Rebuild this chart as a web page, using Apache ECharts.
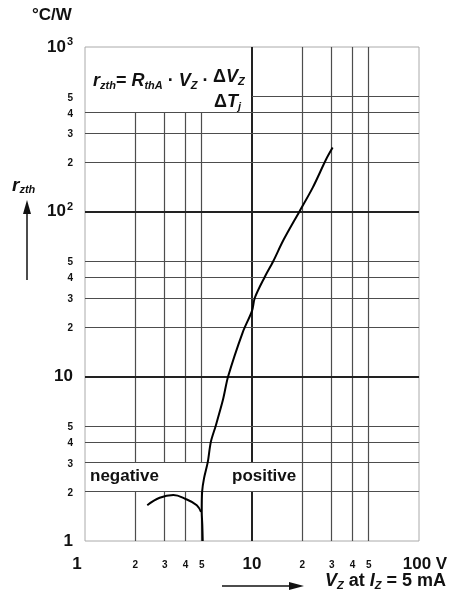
<!DOCTYPE html>
<html>
<head>
<meta charset="utf-8">
<script src="https://cdn.jsdelivr.net/npm/echarts@6/dist/echarts.min.js"></script>
<style>
  html, body { margin: 0; padding: 0; background: #fff; }
  #chart { width: 454px; height: 601px; }
</style>
</head>
<body>
<div id="chart"></div>
<script>
// tick labels and grid positions
const xTicks = [1, 2, 3, 4, 5, 10, 20, 30, 40, 50, 100];
const yTicks = [1, 2, 3, 4, 5, 10, 20, 30, 40, 50, 100, 200, 300, 400, 500, 1000];
const xGrid = [2, 3, 4, 5, 10, 20, 30, 40, 50];
const yGrid = [2, 3, 4, 5, 10, 20, 30, 40, 50, 100, 200, 300, 400, 500];

// curve (Vz in V, rzth in °C/W)
const negativeBranch = [[2.36, 1.65], [2.8, 1.83], [3.38, 1.9], [4, 1.8], [4.67, 1.65], [4.95, 1.5]];
const positiveBranch = [
  [5.07, 1], [5.04, 1.25], [5.0, 1.5], [5.03, 2], [5.16, 2.4], [5.43, 3], [5.67, 4], [6.06, 5],
  [6.7, 7.2], [7.2, 10], [8.8, 18.5], [10, 25], [10.4, 30], [11.9, 40], [13.4, 50], [15.4, 67],
  [19.2, 100], [23.1, 140], [27.8, 208], [30.4, 245]
];

const FONT = 'Liberation Sans';
const minorLine = { color: '#4d4d4d', width: 1.2, type: 'solid' };
const majorLine = { color: '#222', width: 2, type: 'solid' };

// where grid lines are interrupted (formula box, negative/positive band)
function vSpans(v) {
  if (v <= 5) return [[1, 2], [3, 400]];
  if (v === 10) return [[1, 2], [3, 1000]];
  return [[1, 1000]];
}
function hSpans(v) {
  return v === 500 ? [[10, 100]] : [[1, 100]];
}

function gridLines() {
  const out = [];
  xGrid.forEach(v => {
    const ls = v === 10 ? majorLine : minorLine;
    vSpans(v).forEach(([a, b]) => out.push([{ coord: [v, a], lineStyle: ls }, { coord: [v, b] }]));
  });
  yGrid.forEach(v => {
    const ls = (v === 10 || v === 100) ? majorLine : minorLine;
    hSpans(v).forEach(([a, b]) => out.push([{ coord: [a, v], lineStyle: ls }, { coord: [b, v] }]));
  });
  return out;
}

function mantissa(v) {
  return Math.round(v / Math.pow(10, Math.floor(Math.log10(v) + 1e-9)));
}

function xLabel(v) {
  if (v === 1) return '{one|1}';
  if (v === 10) return '{big|10}';
  if (v === 100) return '{hundred|100 V}';
  return '{small|' + mantissa(v) + '}';
}

function yLabel(v) {
  if (v === 1) return '{big|1}';
  if (v === 10) return '{big|10}';
  if (v === 100) return '{big|10}{sup|2}';
  if (v === 1000) return '{big|10}{sup|3}';
  return '{small|' + mantissa(v) + '}';
}

const labelRich = {
  big: { fontSize: 17, fontWeight: 'bold', fontFamily: FONT, color: '#111', lineHeight: 20 },
  one: { fontSize: 17, fontWeight: 'bold', fontFamily: FONT, color: '#111', lineHeight: 20, padding: [0, 16, 0, 0] },
  hundred: { fontSize: 17, fontWeight: 'bold', fontFamily: FONT, color: '#111', lineHeight: 20, padding: [0, 0, 0, 12] },
  small: { fontSize: 10, fontWeight: 'bold', fontFamily: FONT, color: '#111', lineHeight: 20, padding: [3, 0, 0, 0] },
  sup: { fontSize: 11, fontWeight: 'bold', fontFamily: FONT, color: '#111', verticalAlign: 'top', padding: [0, 0, 10, 1] },
};

const subRich = (size) => ({
  i: { font: 'italic bold ' + size + 'px ' + FONT, fill: '#111', lineHeight: 20 },
  n: { font: 'bold ' + size + 'px ' + FONT, fill: '#111', lineHeight: 20 },
  sub: { font: 'italic bold ' + Math.round(size * 0.6) + 'px ' + FONT, fill: '#111', verticalAlign: 'bottom', padding: [6, 0, 0, 0] },
});

const chart = echarts.init(document.getElementById('chart'));

chart.setOption({
  animation: false,
  grid: { left: 85, right: 35, top: 47, bottom: 60, show: true, borderColor: '#aaa', borderWidth: 1 },
  xAxis: {
    type: 'log', logBase: 10, min: 1, max: 100,
    axisLine: { show: false }, axisTick: { show: false }, splitLine: { show: false },
    axisLabel: { customValues: xTicks, margin: 13, formatter: xLabel, rich: labelRich },
  },
  yAxis: {
    type: 'log', logBase: 10, min: 1, max: 1000,
    axisLine: { show: false }, axisTick: { show: false }, splitLine: { show: false },
    axisLabel: { customValues: yTicks, margin: 12, formatter: yLabel, rich: labelRich },
  },
  series: [
    {
      // grid lines
      type: 'line', data: [], z: 1, silent: true,
      markLine: {
        z: 1, silent: true, symbol: 'none', label: { show: false }, animation: false,
        data: gridLines(),
      },
    },
    {
      name: 'negative', type: 'line', z: 3, data: negativeBranch, smooth: 0.4,
      showSymbol: false, lineStyle: { color: '#000', width: 2 },
    },
    {
      name: 'positive', type: 'line', z: 3, data: positiveBranch, smooth: 0.3,
      showSymbol: false, lineStyle: { color: '#000', width: 2 },
    },
  ],
  graphic: [
    { type: 'text', z: 10, left: 32, top: 7, style: { text: '°C/W', font: 'bold 17px ' + FONT, fill: '#111' } },
    { type: 'text', z: 10, left: 12, top: 176, style: { text: '{i|r}{sub|zth}', rich: subRich(19) } },
    { type: 'line', z: 10, shape: { x1: 27, y1: 280, x2: 27, y2: 210 }, style: { stroke: '#111', lineWidth: 1.5 } },
    { type: 'polygon', z: 10, shape: { points: [[27, 200], [23, 214], [31, 214]] }, style: { fill: '#111' } },
    { type: 'line', z: 10, shape: { x1: 222, y1: 586, x2: 292, y2: 586 }, style: { stroke: '#111', lineWidth: 1.5 } },
    { type: 'polygon', z: 10, shape: { points: [[304, 586], [289, 582], [289, 590]] }, style: { fill: '#111' } },
    { type: 'text', z: 10, left: 325, top: 572, style: { text: '{i|V}{sub|Z}{n| at }{i|I}{sub|Z}{n| = 5 mA}', rich: subRich(18) } },
    { type: 'text', z: 10, left: 93, top: 72, style: { text: '{i|r}{sub|zth}{n|= }{i|R}{sub|thA}{n| · }{i|V}{sub|Z}{n| ·}', rich: subRich(18) } },
    { type: 'text', z: 10, left: 213, top: 68, style: { text: '{n|Δ}{i|V}{sub|Z}', rich: subRich(18) } },
    { type: 'text', z: 10, left: 214, top: 93, style: { text: '{n|Δ}{i|T}{sub|j}', rich: subRich(18) } },
    { type: 'text', z: 10, left: 90, top: 468, style: { text: 'negative', font: 'bold 17px ' + FONT, fill: '#111' } },
    { type: 'text', z: 10, left: 232, top: 468, style: { text: 'positive', font: 'bold 17px ' + FONT, fill: '#111' } },
  ],
});
</script>
</body>
</html>
